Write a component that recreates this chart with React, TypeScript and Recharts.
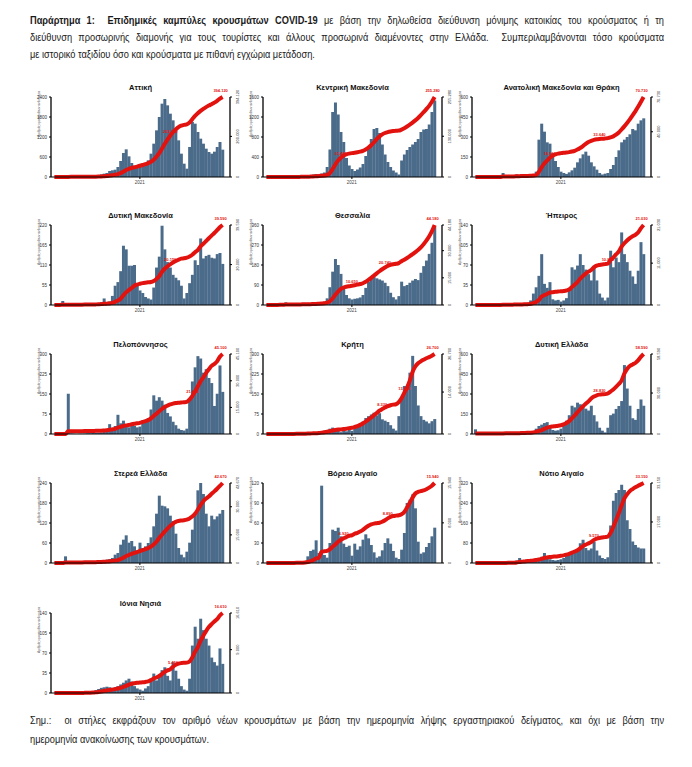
import React from "react";
import { Bar, ComposedChart, Line, XAxis, YAxis } from "recharts";

// each point is a 10-day bin; bars = average daily new cases in that bin
const BIN_DAYS = 10;

const dates = [
  "2020-02-26", "2020-03-07", "2020-03-17", "2020-03-27", "2020-04-06", "2020-04-16", "2020-04-26", "2020-05-06", "2020-05-16", "2020-05-26",
  "2020-06-05", "2020-06-15", "2020-06-25", "2020-07-05", "2020-07-15", "2020-07-25", "2020-08-04", "2020-08-14", "2020-08-24", "2020-09-03",
  "2020-09-13", "2020-09-23", "2020-10-03", "2020-10-13", "2020-10-23", "2020-11-02", "2020-11-12", "2020-11-22", "2020-12-02", "2020-12-12",
  "2020-12-22", "2021-01-01", "2021-01-11", "2021-01-21", "2021-01-31", "2021-02-10", "2021-02-20", "2021-03-02", "2021-03-12", "2021-03-22",
  "2021-04-01", "2021-04-11", "2021-04-21", "2021-05-01", "2021-05-11", "2021-05-21", "2021-05-31", "2021-06-10", "2021-06-20", "2021-06-30",
  "2021-07-10", "2021-07-20", "2021-07-30", "2021-08-09", "2021-08-19", "2021-08-29", "2021-09-08", "2021-09-18", "2021-09-28", "2021-10-08",
  "2021-10-18", "2021-10-28",
];

const regionNames = [
  "Αττική", "Κεντρική Μακεδονία", "Ανατολική Μακεδονία και Θράκη",
  "Δυτική Μακεδονία", "Θεσσαλία", "Ήπειρος",
  "Πελοπόννησος", "Κρήτη", "Δυτική Ελλάδα",
  "Στερεά Ελλάδα", "Βόρειο Αιγαίο", "Νότιο Αιγαίο",
  "Ιόνια Νησιά",
];

const attiki = [
  0, 5, 15, 20, 10, 8, 5, 3, 3, 2,
  3, 5, 8, 15, 20, 30, 50, 80, 100, 120,
  180, 200, 220, 300, 480, 720, 830, 620, 420, 330,
  340, 380, 400, 420, 500, 700, 1000, 1400, 1800, 2200,
  2340, 2150, 1900, 1700, 1450, 1100, 700, 400, 250, 900,
  1650, 1600, 1350, 1150, 1000, 850, 750, 700, 760, 900,
  1050, 820,
];
const kentrikiMakedonia = [
  0, 2, 5, 5, 3, 2, 1, 1, 1, 2,
  3, 5, 8, 10, 15, 25, 40, 50, 60, 60,
  70, 90, 200, 550, 1300, 1490, 1250, 900, 700, 380,
  230, 160, 120, 150, 190, 260, 420, 600, 760, 960,
  980, 880, 650, 450, 300, 200, 130, 90, 50, 330,
  450, 540, 600, 650, 700, 760, 900, 950, 960, 1050,
  1300, 1530,
];
const anatolikiMakedonia = [
  0, 0, 1, 2, 1, 1, 0, 0, 1, 2,
  30, 3, 2, 3, 4, 20, 5, 6, 8, 10,
  12, 15, 40, 280, 400, 340, 260, 250, 180, 120,
  75, 40, 30, 23, 35, 50, 70, 110, 140, 170,
  190, 160, 110, 80, 55, 30, 19, 25, 30, 60,
  90, 150, 200, 260, 280, 300, 320, 360, 350, 400,
  425, 440,
];
const dytikiMakedonia = [
  0, 0, 2, 11, 2, 1, 0, 0, 0, 1,
  1, 1, 2, 2, 3, 4, 5, 8, 18, 6,
  10, 25, 53, 63, 93, 163, 153, 108, 108, 110,
  58, 40, 33, 22, 18, 15, 48, 103, 133, 218,
  153, 118, 103, 83, 75, 68, 53, 18, 33, 60,
  83, 123, 110, 183, 128, 135, 138, 130, 128, 140,
  143, 113,
];
const thessalia = [
  0, 0, 1, 2, 2, 3, 4, 12, 2, 1,
  1, 2, 2, 3, 3, 4, 5, 6, 8, 10,
  12, 15, 30, 80, 150, 207, 180, 140, 80, 45,
  30, 25, 28, 30, 34, 45, 77, 105, 117, 128,
  120, 115, 110, 100, 85, 55, 35, 25, 40, 105,
  85, 90, 100, 110, 117, 112, 145, 175, 200, 230,
  280, 355,
];
const ipeiros = [
  0, 0, 0, 1, 1, 1, 0, 0, 0, 0,
  1, 3, 1, 1, 1, 1, 2, 2, 3, 4,
  8, 20, 31, 51, 89, 37, 30, 40, 10, 8,
  9, 6, 8, 12, 25, 66, 62, 69, 89, 70,
  62, 54, 43, 69, 43, 20, 13, 8, 13, 95,
  66, 83, 75, 127, 89, 75, 60, 50, 37, 60,
  110, 89,
];
const peloponnisos = [
  0, 0, 1, 2, 2, 151, 2, 1, 0, 1,
  1, 2, 3, 3, 4, 5, 5, 6, 8, 10,
  37, 15, 30, 72, 40, 50, 35, 25, 35, 30,
  25, 28, 50, 45, 60, 92, 145, 125, 138, 125,
  110, 79, 66, 46, 33, 20, 15, 13, 20, 132,
  197, 250, 292, 283, 230, 243, 210, 191, 105, 151,
  257, 158,
];
const kriti = [
  0, 0, 0, 1, 1, 1, 0, 0, 0, 0,
  1, 1, 1, 2, 2, 3, 6, 5, 4, 8,
  10, 12, 15, 20, 24, 18, 12, 7, 12, 10,
  20, 12, 25, 30, 40, 47, 60, 67, 73, 80,
  70, 78, 55, 50, 45, 33, 20, 13, 67, 133,
  180, 175, 230, 293, 180, 107, 67, 53, 47, 40,
  48, 56,
];
const dytikiEllada = [
  35, 2, 1, 2, 2, 1, 1, 0, 0, 0,
  1, 1, 2, 2, 3, 4, 5, 6, 8, 10,
  12, 20, 40, 60, 70, 82, 89, 60, 30, 25,
  28, 40, 60, 100, 141, 212, 200, 235, 223, 210,
  190, 176, 212, 141, 94, 47, 25, 12, 47, 141,
  153, 188, 210, 247, 517, 341, 212, 118, 106, 188,
  259, 212,
];
const stereaEllada = [
  0, 0, 1, 2, 20, 6, 2, 1, 0, 0,
  1, 1, 2, 2, 3, 4, 5, 6, 8, 10,
  12, 15, 25, 30, 55, 70, 83, 61, 66, 50,
  38, 61, 45, 50, 60, 77, 110, 148, 202, 172,
  170, 164, 142, 126, 88, 45, 25, 17, 34, 61,
  100, 148, 218, 240, 207, 148, 110, 142, 131, 140,
  148, 159,
];
const voreioAigaio = [
  0, 0, 0, 1, 0, 0, 0, 0, 0, 0,
  1, 1, 1, 2, 3, 10, 18, 20, 34, 15,
  116, 12, 8, 30, 50, 48, 53, 40, 29, 24,
  26, 11, 29, 20, 25, 35, 43, 37, 27, 16,
  8, 10, 19, 30, 37, 29, 18, 8, 6, 20,
  45, 90, 95, 103, 82, 32, 14, 16, 24, 30,
  40, 53,
];
const notioAigaio = [
  0, 0, 1, 1, 1, 0, 0, 0, 0, 0,
  1, 1, 2, 3, 5, 10, 20, 12, 10, 12,
  14, 15, 18, 20, 25, 40, 22, 15, 12, 10,
  12, 15, 20, 28, 37, 45, 48, 55, 79, 93,
  60, 51, 58, 86, 50, 30, 20, 16, 23, 150,
  249, 280, 292, 313, 292, 171, 136, 86, 72, 62,
  58, 58,
];
const ioniaNisia = [
  0, 0, 0, 0, 1, 1, 0, 0, 0, 0,
  0, 1, 1, 2, 3, 5, 7, 9, 10, 11,
  10, 9, 10, 12, 15, 18, 22, 25, 20, 12,
  8, 6, 4, 8, 12, 25, 34, 22, 31, 40,
  45, 30, 22, 54, 39, 25, 12, 6, 4, 25,
  83, 116, 95, 130, 110, 95, 83, 62, 54, 48,
  78, 51,
];

const dailySeries = [
  attiki, kentrikiMakedonia, anatolikiMakedonia,
  dytikiMakedonia, thessalia, ipeiros,
  peloponnisos, kriti, dytikiEllada,
  stereaEllada, voreioAigaio, notioAigaio,
  ioniaNisia,
];

// points of the cumulative line that carry a red value label
const labelMarks = [
  [42, 61], [27, 61], [27, 45, 61],
  [42, 61], [31, 43, 61], [48, 61],
  [50, 61], [42, 50, 61], [45, 61],
  [61], [28, 44, 61], [43, 61],
  [43, 61],
];

const BAR = "#4b6b8b";
const RED = "#e2120f";
const colLeft = [18, 230, 439];
const rowTitleY = [88, 216, 345, 474, 604];
const TEXT_SCALE = 0.88;

const fmt = (v: number) => String(Math.round(v)).replace(/\B(?=(\d{3})+(?!\d))/g, ".");

const RightTick = (p: any) => (
  <g transform={`translate(${p.x + 5},${p.y}) rotate(-90)`}>
    <text textAnchor="middle" fontSize={4} fill="#333">
      {fmt(p.payload.value)}
    </text>
  </g>
);

function Panel({ name, daily, marks, left, titleY }: any) {
  let run = 0;
  const rows = dates.map((date, i) => {
    run += daily[i] * BIN_DAYS;
    return { date, daily: daily[i], cum: run };
  });

  const labelDot = (p: any) => {
    if (!marks.includes(p.index)) return <g key={p.index} />;
    const last = p.index === rows.length - 1;
    return (
      <text
        key={p.index}
        x={p.cx - (last ? 2 : 0)}
        y={p.cy - (last ? 5 : 3)}
        textAnchor="middle"
        fontSize={4}
        fontWeight={700}
        fill={RED}
      >
        {fmt(p.payload.cum)}
      </text>
    );
  };

  return (
    <div style={{ position: "absolute", left, top: titleY - 7, width: 226, height: 110 }}>
      <div
        style={{
          position: "absolute",
          left: 33,
          width: 179,
          top: 0,
          height: 14,
          lineHeight: "14px",
          textAlign: "center",
          fontFamily: '"Liberation Sans", Arial, sans-serif',
          fontWeight: 700,
          fontSize: 7.5,
          color: "#111",
          whiteSpace: "nowrap",
        }}
      >
        {name}
      </div>
      <ComposedChart
        width={226}
        height={110}
        data={rows}
        margin={{ top: 16, right: 0, bottom: 0, left: 0 }}
        barCategoryGap={0}
        style={{ fontFamily: '"Liberation Sans", Arial, sans-serif' }}
      >
        <XAxis
          dataKey="date"
          ticks={["2021-01-01"]}
          interval={0}
          tickFormatter={() => "2021"}
          tick={{ fontSize: 4.5, fill: "#444" }}
          tickSize={2}
          axisLine={{ stroke: "#000", strokeWidth: 1 }}
          tickLine={{ stroke: "#000" }}
          height={14}
          padding={{ left: 2, right: 6 }}
        />
        <YAxis
          yAxisId="l"
          width={33}
          tickCount={5}
          allowDecimals={false}
          tick={{ fontSize: 4.5, fill: "#333" }}
          tickSize={2}
          axisLine={{ stroke: "#000", strokeWidth: 1.3 }}
          tickLine={{ stroke: "#000" }}
          label={{
            value: "Αριθμός κρουσμάτων ανά ημέρα",
            angle: -90,
            position: "insideLeft",
            offset: 21,
            fontSize: 3.2,
            fill: "#444",
          }}
        />
        <YAxis
          yAxisId="r"
          orientation="right"
          width={14}
          tickCount={5}
          domain={[0, "dataMax"]}
          allowDecimals={false}
          tick={<RightTick />}
          tickSize={2}
          axisLine={{ stroke: "#000", strokeWidth: 1.3 }}
          tickLine={{ stroke: "#000" }}
        />
        <Bar yAxisId="l" dataKey="daily" fill={BAR} isAnimationActive={false} />
        <Line
          yAxisId="r"
          type="monotone"
          dataKey="cum"
          stroke={RED}
          strokeWidth={4}
          dot={labelDot}
          activeDot={false}
          isAnimationActive={false}
        />
      </ComposedChart>
    </div>
  );
}

function TextLine({ top, justify, children }: any) {
  return (
    <div
      style={{
        position: "absolute",
        left: 30,
        top,
        width: 634 / TEXT_SCALE,
        height: 16,
        lineHeight: "16px",
        fontSize: 10.5,
        whiteSpace: "nowrap",
        textAlign: "justify",
        textAlignLast: justify ? "justify" : "left",
        transform: `scaleX(${TEXT_SCALE})`,
        transformOrigin: "0 0",
      }}
    >
      {children}
    </div>
  );
}

export default function App() {
  return (
    <div
      style={{
        position: "absolute",
        left: 0,
        top: 0,
        width: 692,
        height: 767,
        background: "#fff",
        color: "#1a1a1a",
        fontFamily: '"Liberation Sans", Arial, sans-serif',
      }}
    >
      <TextLine top={12} justify>
        <b>Παράρτημα 1:&nbsp; Επιδημικές καμπύλες κρουσμάτων COVID-19</b> με βάση την δηλωθείσα διεύθυνση μόνιμης κατοικίας του κρούσματος ή τη
      </TextLine>
      <TextLine top={29} justify>
        διεύθυνση προσωρινής διαμονής για τους τουρίστες και άλλους προσωρινά διαμένοντες στην Ελλάδα.&nbsp; Συμπεριλαμβάνονται τόσο κρούσματα
      </TextLine>
      <TextLine top={46}>
        με ιστορικό ταξιδίου όσο και κρούσματα με πιθανή εγχώρια μετάδοση.
      </TextLine>

      {regionNames.map((name, i) => (
        <Panel
          key={name}
          name={name}
          daily={dailySeries[i]}
          marks={labelMarks[i]}
          left={colLeft[i % 3]}
          titleY={rowTitleY[Math.floor(i / 3)]}
        />
      ))}

      <TextLine top={712} justify>
        Σημ.:&nbsp; οι στήλες εκφράζουν τον αριθμό νέων κρουσμάτων με βάση την ημερομηνία λήψης εργαστηριακού δείγματος, και όχι με βάση την
      </TextLine>
      <TextLine top={731}>ημερομηνία ανακοίνωσης των κρουσμάτων.</TextLine>
    </div>
  );
}
